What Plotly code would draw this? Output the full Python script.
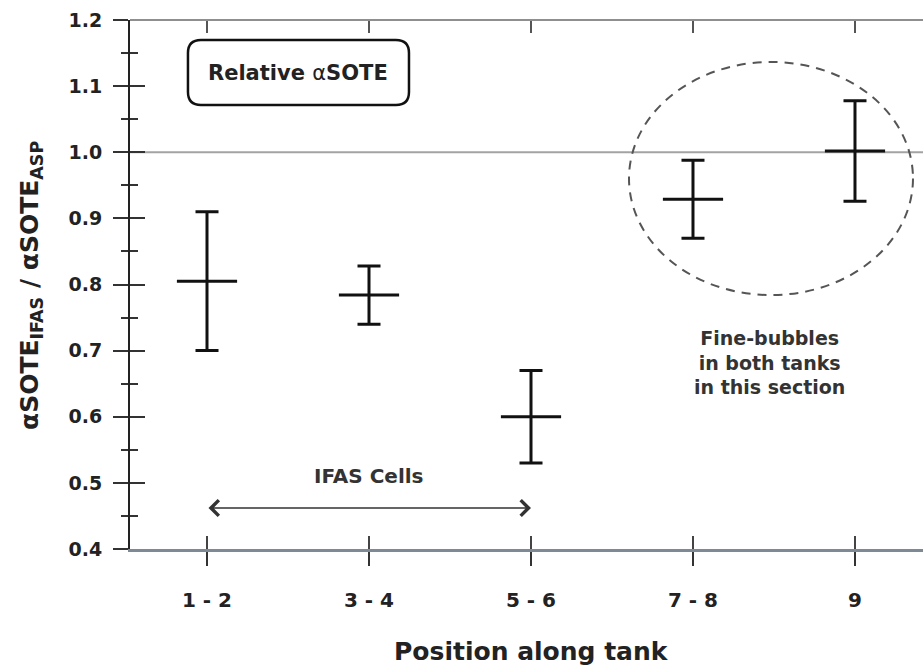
import plotly.graph_objects as go

# Positions along the tank and relative alpha-SOTE (IFAS / ASP)
positions = ["1 - 2", "3 - 4", "5 - 6", "7 - 8", "9"]
ratio_mean = [0.805, 0.784, 0.600, 0.929, 1.002]
ratio_err = [0.105, 0.044, 0.070, 0.059, 0.076]

y_ticks = [0.4, 0.5, 0.6, 0.7, 0.8, 0.9, 1.0, 1.1, 1.2]
reference_level = 1.0

FONT = "DejaVu Sans"
x_idx = list(range(len(positions)))
x_range = [-0.4753, 4.4198]
y_range = [0.4, 1.2]
plot_h_px = 529  # plot-area height in pixels

fig = go.Figure()

# mean (horizontal dash) with error bars
fig.add_trace(go.Scatter(
    x=x_idx, y=ratio_mean,
    mode="markers",
    marker=dict(symbol="line-ew", size=43, color="#111",
                line=dict(width=3, color="#111")),
    error_y=dict(type="data", array=ratio_err, visible=True,
                 thickness=3, width=11.5, color="#111"),
    showlegend=False, hoverinfo="skip",
))

# short inward tick marks hanging from the top frame at each position
top_tick = 13 * (y_range[1] - y_range[0]) / plot_h_px
fig.add_trace(go.Scatter(
    x=x_idx, y=[y_range[1]] * len(x_idx), mode="markers",
    marker=dict(size=2, color="rgba(0,0,0,0)"),
    error_y=dict(type="data", symmetric=False, visible=True,
                 array=[0] * len(x_idx),
                 arrayminus=[top_tick] * len(x_idx), thickness=2,
                 width=0, color="#555"),
    cliponaxis=False, showlegend=False, hoverinfo="skip",
))

# empty traces to carry the overlaid axes (crossing ticks, top frame)
fig.add_trace(go.Scatter(x=[None], y=[None], xaxis="x2", yaxis="y2",
                         showlegend=False, hoverinfo="skip"))
fig.add_trace(go.Scatter(x=[None], y=[None], xaxis="x3", yaxis="y",
                         showlegend=False, hoverinfo="skip"))

fig.update_layout(
    width=923, height=668,
    margin=dict(l=130, r=0, t=20, b=119),
    paper_bgcolor="white", plot_bgcolor="white",
    xaxis=dict(
        type="linear",
        range=x_range, tickmode="array", tickvals=x_idx, ticktext=positions,
        showgrid=False, zeroline=False,
        showline=True, linecolor="#7d8a96", linewidth=2.5,
        ticks="inside", ticklen=13, tickwidth=2, tickcolor="#444",
        tickfont=dict(family=FONT, size=20, color="#222", weight="bold"),
        ticklabelstandoff=31,
    ),
    xaxis2=dict(
        type="linear",
        range=x_range, overlaying="x", anchor="y", side="bottom",
        tickmode="array", tickvals=x_idx, showticklabels=False,
        showgrid=False, zeroline=False,
        showline=True, linecolor="#7d8a96", linewidth=2.5,
        ticks="outside", ticklen=14, tickwidth=2, tickcolor="#333",
    ),
    # top frame line
    xaxis3=dict(
        type="linear",
        range=x_range, overlaying="x", anchor="free", position=1.0,
        side="top", showticklabels=False, ticks="",
        showgrid=False, zeroline=False,
        showline=True, linecolor="#8f8f8f", linewidth=2,
    ),
    yaxis=dict(
        type="linear",
        range=y_range, tickmode="array", tickvals=y_ticks, tickformat=".1f",
        showgrid=False, zeroline=False,
        showline=True, linecolor="#222", linewidth=2,
        ticks="outside", ticklen=15, tickwidth=2, tickcolor="#333",
        minor=dict(ticks="outside", ticklen=7, dtick=0.05, tickwidth=2,
                   tickcolor="#333"),
        tickfont=dict(family=FONT, size=19, color="#222", weight="bold"),
        ticklabelstandoff=7,
    ),
    yaxis2=dict(
        type="linear",
        range=y_range, overlaying="y", anchor="x", side="left",
        tickmode="array", tickvals=y_ticks, showticklabels=False,
        showgrid=False, zeroline=False, showline=False,
        ticks="inside", ticklen=15, tickwidth=2, tickcolor="#333",
        minor=dict(ticks="inside", ticklen=8, dtick=0.05, tickwidth=2,
                   tickcolor="#333"),
    ),
)

# reference line at ratio = 1
fig.add_shape(type="line", xref="paper", yref="y", x0=0, x1=1,
              y0=reference_level, y1=reference_level,
              line=dict(color="#a3a3a3", width=2), layer="below")

# dashed ellipse around the fine-bubble section
fig.add_shape(type="circle", xref="x", yref="y",
              x0=2.605, x1=4.358, y0=0.784, y1=1.1365,
              line=dict(color="#555", width=2, dash="9px,7px"))

# rounded label box (paper coordinates)
bx0, bx1, by0, by1 = 0.0731, 0.3518, 0.8393, 0.9622
rx, ry = 13 / 793, 13 / 529
box_path = (
    f"M{bx0 + rx},{by1} L{bx1 - rx},{by1} Q{bx1},{by1} {bx1},{by1 - ry} "
    f"L{bx1},{by0 + ry} Q{bx1},{by0} {bx1 - rx},{by0} "
    f"L{bx0 + rx},{by0} Q{bx0},{by0} {bx0},{by0 + ry} "
    f"L{bx0},{by1 - ry} Q{bx0},{by1} {bx0 + rx},{by1} Z"
)
fig.add_shape(type="path", xref="paper", yref="paper", path=box_path,
              line=dict(color="#111", width=2.5))

fig.add_annotation(
    xref="paper", yref="paper", x=(bx0 + bx1) / 2, y=(by0 + by1) / 2,
    xanchor="center", yanchor="middle",
    text="<b>Relative </b>α<b>SOTE</b>",
    showarrow=False, font=dict(family=FONT, size=21, color="#222"),
)

# IFAS cells span
fig.add_annotation(x=2, y=0.462, ax=0, ay=0.462, xref="x", yref="y",
                   axref="x", ayref="y", text="", showarrow=True,
                   arrowhead=4, startarrowhead=4, arrowside="end+start",
                   arrowsize=1.9, startarrowsize=1.9, arrowwidth=1.6,
                   arrowcolor="#333", standoff=0, startstandoff=0)
fig.add_annotation(x=1.0, y=0.510, xref="x", yref="y", text="<b>IFAS Cells</b>",
                   xanchor="center", yanchor="middle",
                   showarrow=False, font=dict(family=FONT, size=20, color="#333"))

fig.add_annotation(
    x=3.475, y=0.6826, xref="x", yref="y",
    xanchor="center", yanchor="middle",
    text="<b>Fine-bubbles<br>in both tanks<br>in this section</b>",
    showarrow=False, font=dict(family=FONT, size=19, color="#333"),
)

# axis titles
fig.add_annotation(
    xref="paper", yref="paper", x=(531 - 130) / 793, y=(549 - 651) / 529,
    xanchor="center", yanchor="middle",
    text="<b>Position along tank</b>", showarrow=False,
    font=dict(family=FONT, size=25, color="#222"),
)
fig.add_annotation(
    xref="paper", yref="paper", x=(31 - 130) / 793, y=(549 - 286) / 529,
    xanchor="center", yanchor="middle",
    text="<b>αSOTE<sub>IFAS</sub> / αSOTE<sub>ASP</sub></b>",
    textangle=-90, showarrow=False,
    font=dict(family=FONT, size=25, color="#222"),
)

fig.write_html("out.html")
